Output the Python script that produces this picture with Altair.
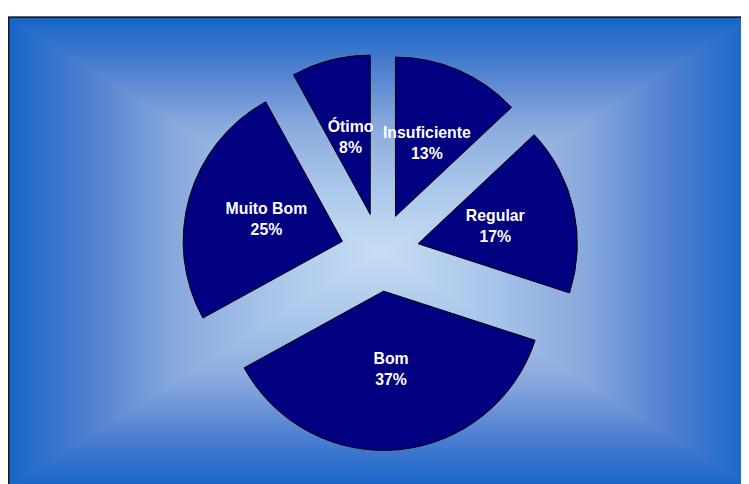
import altair as alt
import pandas as pd

# ---- data ----
categories = ["Insuficiente", "Regular", "Bom", "Muito Bom", "Ótimo"]
values = [13, 17, 37, 25, 8]
order = [0, 1, 2, 3, 4]

# ---- layout / style constants ----
W, H = 741, 476
CX, CY = 376.0, 244.3                      # pie centre (chart coords)
FX0, FY0 = -2, 6                           # frame top-left (gradient box)
FX1, FY1 = 2 * CX - FX0, 2 * CY - FY0      # gradient box centred on the pie
R = 161                                    # pie radius
D = 39.5                                   # explode distance
LR = 80                                    # label distance from slice apex
LH = 21                                    # label line height
NAVY = "#000080"

edge_to_center = [
    (0.0, "#1565c8"),
    (0.22, "#4f7fd0"),
    (0.46, "#8aaadd"),
    (0.72, "#aac6ea"),
    (1.0, "#c7ddf3"),
]
stops_ec = [{"offset": o, "color": c} for o, c in edge_to_center]
stops_ce = [{"offset": round(1 - o, 4), "color": c} for o, c in reversed(edge_to_center)]
# vertical: edge -> centre -> edge over the whole frame
stops_v = [{"offset": round(o / 2, 4), "color": c} for o, c in edge_to_center] + \
          [{"offset": round(1 - o / 2, 4), "color": c} for o, c in reversed(edge_to_center[:-1])]


def grad(x1, y1, x2, y2, stops):
    return {"gradient": "linear", "x1": x1, "y1": y1, "x2": x2, "y2": y2, "stops": stops}


pie_df = pd.DataFrame({"category": categories, "value": values, "order": order})
one = pd.DataFrame({"k": [0]})

left_df = pd.DataFrame({"y": [FY0, CY, FY1], "x": [FX0] * 3, "x2": [FX0, CX, FX0]})
right_df = pd.DataFrame({"y": [FY0, CY, FY1], "x": [FX1] * 3, "x2": [FX1, CX, FX1]})

NX = dict(scale=None, axis=None)

base_fill = alt.Chart(one).mark_rect(fill=grad(0, 0, 0, 1, stops_v)).encode(
    x=alt.value(FX0), x2=alt.value(FX1), y=alt.value(FY0), y2=alt.value(FY1))

left = alt.Chart(left_df).mark_area(orient="horizontal", fill=grad(0, 0, 1, 0, stops_ec)).encode(
    y=alt.Y("y:Q", **NX), x=alt.X("x:Q", **NX), x2="x2:Q")
right = alt.Chart(right_df).mark_area(orient="horizontal", fill=grad(0, 0, 1, 0, stops_ce)).encode(
    y=alt.Y("y:Q", **NX), x=alt.X("x:Q", **NX), x2="x2:Q")

border = alt.Chart(one).mark_rect(fill=None, stroke="#1c1c1c", strokeWidth=1.6).encode(
    x=alt.value(0.8), x2=alt.value(W + 20), y=alt.value(FY0 + 0.8), y2=alt.value(H + 20))

pie_base = (
    alt.Chart(pie_df)
    .transform_joinaggregate(total="sum(value)")
    .transform_window(cum="sum(value)", sort=[alt.SortField("order")], frame=[None, 0])
    .transform_calculate(
        t1="2*PI*datum.cum/datum.total",
        t0="2*PI*(datum.cum-datum.value)/datum.total",
    )
    .transform_calculate(mid="(datum.t0+datum.t1)/2")
    .transform_calculate(
        ox=f"{CX}+{D}*sin(datum.mid)",
        oy=f"{CY}-{D}*cos(datum.mid)",
        lx=f"{CX}+{D + LR}*sin(datum.mid)",
        ly=f"{CY}-{D + LR}*cos(datum.mid)-{LH / 2}",
        lab="[datum.category, format(datum.value/datum.total, '.0%')]",
    )
)

arcs = pie_base.mark_arc(radius=R, fill=NAVY, stroke="#000000", strokeWidth=1).encode(
    theta=alt.Theta("t0:Q", scale=None),
    theta2="t1:Q",
    x=alt.X("ox:Q", **NX),
    y=alt.Y("oy:Q", **NX),
)

labels = pie_base.mark_text(
    font="Liberation Sans", fontSize=16, fontWeight="bold", color="white",
    lineHeight=LH, align="center", baseline="middle",
).encode(
    x=alt.X("lx:Q", **NX),
    y=alt.Y("ly:Q", **NX),
    text="lab:N",
)

chart = (
    alt.layer(base_fill, left, right, border, arcs, labels)
    .properties(width=W, height=H, padding=0, autosize=alt.AutoSizeParams(type="none"), background="white")
    .configure_view(stroke=None)
)

chart.save("out.html", embed_options={"renderer": "svg", "actions": False})
